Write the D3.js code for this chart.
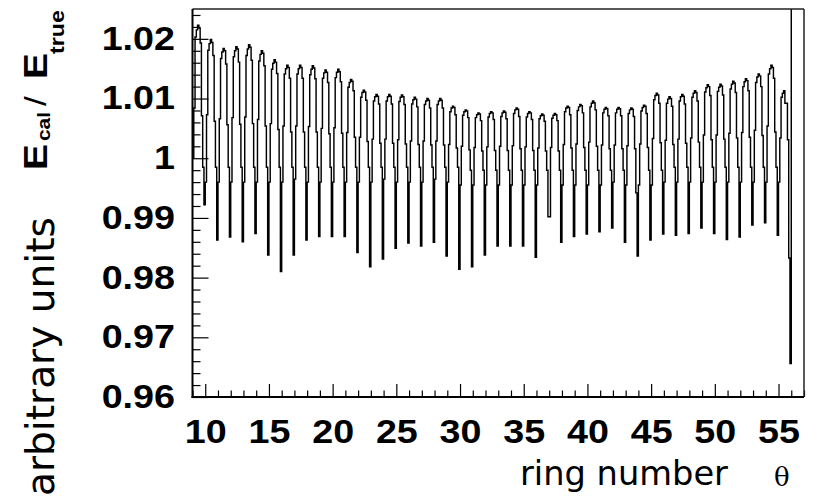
<!DOCTYPE html>
<html><head><meta charset="utf-8">
<script src="https://cdn.jsdelivr.net/npm/d3@7"></script>
<style>html,body{margin:0;padding:0;background:#fff;} svg{display:block}</style>
</head><body>
<svg id="chart" width="821" height="498"></svg>
<script>
// ---- data ----
const ringStart = 9;       // first bin edge (ring number)
const binWidth = 0.1;      // ten bins per ring
// one row per ring 9 … 55, ten bins each (E_cal / E_true)
const ringBins = [
[1.0000,1.0084,1.0203,1.0215,1.0223,1.0218,1.0193,1.0071,0.9985,0.9922],
[0.9960,1.0073,1.0181,1.0192,1.0199,1.0194,1.0172,1.0062,0.9985,0.9863],
[0.9960,1.0066,1.0167,1.0178,1.0184,1.0180,1.0158,1.0056,0.9985,0.9868],
[0.9960,1.0068,1.0170,1.0180,1.0187,1.0183,1.0161,1.0057,0.9985,0.9860],
[0.9960,1.0069,1.0172,1.0183,1.0190,1.0186,1.0164,1.0058,0.9985,0.9874],
[0.9960,1.0065,1.0163,1.0174,1.0180,1.0176,1.0155,1.0054,0.9985,0.9838],
[0.9960,1.0058,1.0149,1.0159,1.0165,1.0161,1.0142,1.0048,0.9985,0.9810],
[0.9960,1.0054,1.0141,1.0150,1.0156,1.0152,1.0134,1.0044,0.9985,0.9838],
[0.9965,1.0054,1.0141,1.0150,1.0156,1.0152,1.0134,1.0044,0.9985,0.9863],
[0.9960,1.0053,1.0140,1.0149,1.0155,1.0151,1.0133,1.0044,0.9985,0.9869],
[0.9960,1.0050,1.0134,1.0143,1.0148,1.0144,1.0127,1.0041,0.9985,0.9869],
[0.9960,1.0051,1.0135,1.0144,1.0149,1.0145,1.0128,1.0042,0.9985,0.9869],
[0.9960,1.0043,1.0119,1.0127,1.0132,1.0129,1.0113,1.0035,0.9985,0.9842],
[0.9960,1.0035,1.0102,1.0110,1.0114,1.0111,1.0097,1.0028,0.9985,0.9818],
[0.9960,1.0032,1.0096,1.0103,1.0107,1.0104,1.0091,1.0025,0.9985,0.9831],
[0.9965,1.0032,1.0096,1.0103,1.0107,1.0104,1.0091,1.0025,0.9985,0.9849],
[0.9960,1.0031,1.0095,1.0102,1.0106,1.0103,1.0090,1.0024,0.9985,0.9858],
[0.9960,1.0029,1.0091,1.0098,1.0102,1.0099,1.0086,1.0023,0.9985,0.9853],
[0.9960,1.0029,1.0090,1.0096,1.0100,1.0097,1.0084,1.0022,0.9985,0.9859],
[0.9965,1.0029,1.0090,1.0096,1.0100,1.0097,1.0084,1.0022,0.9985,0.9836],
[0.9960,1.0023,1.0078,1.0084,1.0087,1.0085,1.0073,1.0017,0.9985,0.9814],
[0.9955,1.0020,1.0072,1.0078,1.0081,1.0079,1.0068,1.0014,0.9980,0.9818],
[0.9955,1.0018,1.0068,1.0073,1.0076,1.0074,1.0063,1.0012,0.9980,0.9838],
[0.9955,1.0019,1.0069,1.0075,1.0078,1.0076,1.0065,1.0013,0.9980,0.9853],
[0.9955,1.0020,1.0070,1.0076,1.0079,1.0077,1.0066,1.0013,0.9980,0.9853],
[0.9955,1.0021,1.0075,1.0081,1.0084,1.0082,1.0070,1.0016,0.9980,0.9853],
[0.9955,1.0019,1.0069,1.0075,1.0078,1.0076,1.0065,1.0013,0.9980,0.9834],
[0.9955,1.0017,1.0066,1.0071,1.0074,1.0072,1.0062,1.0012,0.9980,0.9902],
[0.9902,1.0018,1.0067,1.0072,1.0075,1.0073,1.0063,1.0012,0.9980,0.9859],
[0.9955,1.0023,1.0078,1.0084,1.0087,1.0085,1.0073,1.0017,0.9980,0.9869],
[0.9955,1.0024,1.0080,1.0086,1.0090,1.0088,1.0076,1.0018,0.9980,0.9873],
[0.9955,1.0027,1.0086,1.0092,1.0096,1.0093,1.0081,1.0020,0.9980,0.9877],
[0.9955,1.0022,1.0076,1.0082,1.0085,1.0083,1.0071,1.0016,0.9980,0.9883],
[0.9960,1.0022,1.0076,1.0082,1.0085,1.0083,1.0071,1.0016,0.9980,0.9859],
[0.9955,1.0021,1.0075,1.0081,1.0084,1.0082,1.0070,1.0016,0.9942,0.9836],
[0.9955,1.0024,1.0079,1.0085,1.0089,1.0087,1.0075,1.0018,0.9980,0.9863],
[0.9955,1.0033,1.0098,1.0105,1.0109,1.0106,1.0092,1.0026,0.9980,0.9873],
[0.9960,1.0030,1.0092,1.0099,1.0103,1.0100,1.0087,1.0023,0.9985,0.9871],
[0.9960,1.0032,1.0096,1.0103,1.0107,1.0104,1.0091,1.0025,0.9985,0.9874],
[0.9960,1.0034,1.0102,1.0109,1.0113,1.0110,1.0096,1.0027,0.9985,0.9883],
[0.9960,1.0039,1.0111,1.0118,1.0123,1.0120,1.0105,1.0031,0.9985,0.9874],
[0.9960,1.0039,1.0112,1.0119,1.0124,1.0121,1.0106,1.0032,0.9985,0.9864],
[0.9960,1.0042,1.0116,1.0124,1.0129,1.0126,1.0110,1.0034,0.9985,0.9868],
[0.9960,1.0043,1.0120,1.0128,1.0133,1.0130,1.0113,1.0035,0.9985,0.9888],
[0.9960,1.0047,1.0127,1.0136,1.0141,1.0138,1.0120,1.0038,0.9985,0.9892],
[0.9960,1.0054,1.0141,1.0150,1.0156,1.0152,1.0134,1.0044,0.9985,0.9871],
[0.9960,1.0034,1.0102,1.0109,1.0113,1.0092,1.0092,1.0031,0.9833,0.9656]
];
const tailStart = 56;      // after the last ring the content is off-scale (above the frame)
const tailValue = 1.04;
const xDomain = [9, 57];
const yDomain = [0.96, 1.025];
const xMajorTicks = [10, 15, 20, 25, 30, 35, 40, 45, 50, 55];
const xMinorTicks = d3.range(9, 58).filter(v => v % 5 !== 0);
const yMajorTicks = [0.96, 0.97, 0.98, 0.99, 1.00, 1.01, 1.02];
const yMinorTicks = d3.range(480, 513).filter(i => i % 5 !== 0).map(i => i / 500);
const yLabels = ["0.96", "0.97", "0.98", "0.99", "1", "1.01", "1.02"];

// ---- layout ----
const L = 192.5, R = 804, T = 9, B = 397;
const svg = d3.select("#chart");
svg.append("rect").attr("width", 821).attr("height", 498).attr("fill", "#fff");
const x = d3.scaleLinear(xDomain, [L, R]);
const y = d3.scaleLinear(yDomain, [B, T]);
const boldFont = "'Liberation Sans', Helvetica, Arial, sans-serif";
const titleFont = "'DejaVu Sans', sans-serif";
const STRETCH = 1.16;

svg.append("clipPath").attr("id", "frameClip")
  .append("rect").attr("x", L).attr("y", T).attr("width", R - L).attr("height", B - T);

// histogram
const values = ringBins.flat();
const pts = values.map((v, i) => [ringStart + i * binWidth, v]);
pts.push([tailStart, tailValue]);
pts.push([xDomain[1], tailValue]);
const line = d3.line().x(d => x(d[0])).y(d => y(d[1])).curve(d3.curveStepAfter);
svg.append("path").attr("clip-path", "url(#frameClip)")
  .attr("d", line(pts)).attr("fill", "none")
  .attr("stroke", "#000").attr("stroke-width", 1.45);

// axes
const yMinor = svg.append("g").attr("transform", `translate(${L},0)`)
  .call(d3.axisLeft(y).tickValues(yMinorTicks).tickSize(-8).tickFormat(""));
const yMajor = svg.append("g").attr("transform", `translate(${L},0)`)
  .call(d3.axisLeft(y).tickValues(yMajorTicks).tickSize(-16).tickPadding(17)
    .tickFormat((d, i) => yLabels[i]));
const xMinor = svg.append("g").attr("transform", `translate(0,${B})`)
  .call(d3.axisBottom(x).tickValues(xMinorTicks).tickSize(-6.5).tickFormat(""));
const xMajor = svg.append("g").attr("transform", `translate(0,${B})`)
  .call(d3.axisBottom(x).tickValues(xMajorTicks).tickSize(-13).tickPadding(23)
    .tickFormat(d3.format("d")));
[yMinor, yMajor, xMinor, xMajor].forEach(g => {
  g.select(".domain").remove();
  g.selectAll(".tick line").attr("stroke", "#000").attr("stroke-width", 1.2);
});
yMajor.selectAll(".tick text")
  .attr("font-family", boldFont).attr("font-weight", "bold").attr("font-size", 32.5)
  .attr("fill", "#000").attr("x", 0)
  .attr("transform", `translate(-17.5,0) scale(${STRETCH},1)`);
xMajor.selectAll(".tick text")
  .attr("font-family", boldFont).attr("font-weight", "bold").attr("font-size", 32.5)
  .attr("fill", "#000")
  .attr("transform", `scale(${STRETCH},1)`);

// frame
svg.append("line").attr("x1", L).attr("x2", R).attr("y1", T).attr("y2", T).attr("stroke", "#222").attr("stroke-width", 1.5);
svg.append("line").attr("x1", R).attr("x2", R).attr("y1", T).attr("y2", B).attr("stroke", "#222").attr("stroke-width", 1.5);
svg.append("line").attr("x1", L).attr("x2", L).attr("y1", T).attr("y2", B + 1).attr("stroke", "#000").attr("stroke-width", 2);
svg.append("line").attr("x1", L - 1).attr("x2", R).attr("y1", B).attr("y2", B).attr("stroke", "#000").attr("stroke-width", 2);

// titles
function fit(t, target) {
  const len = t.node().getComputedTextLength();
  const fs = parseFloat(t.attr("font-size"));
  t.attr("font-size", fs * target / len);
}
const xt = svg.append("text").attr("x", 520).attr("y", 485)
  .attr("font-family", titleFont).attr("font-size", 34).attr("fill", "#000")
  .text("ring number");
fit(xt, 208);
svg.append("text").attr("x", 774).attr("y", 486)
  .attr("font-family", "'DejaVu Serif', 'Liberation Serif', serif").attr("font-size", 26)
  .attr("fill", "#000").text("θ");

const yt = svg.append("text").attr("transform", "translate(54,496) rotate(-90)")
  .attr("font-family", titleFont).attr("font-size", 36).attr("fill", "#000")
  .text("arbitrary units");
fit(yt, 279);

// E_cal / E_true (bold, rotated)
function rtext(str, bx, by, fs, weight) {
  return svg.append("text")
    .attr("transform", `translate(${bx},${by}) rotate(-90) scale(${STRETCH},1)`)
    .attr("font-family", boldFont).attr("font-weight", weight || "bold")
    .attr("font-size", fs).attr("fill", "#000").text(str);
}
rtext("E", 47, 170, 33.5);
rtext("cal", 50, 141, 18);
rtext("/", 46, 106, 30, "normal");
rtext("E", 47, 79, 33.5);
rtext("true", 64, 54, 20);
</script>
</body></html>
